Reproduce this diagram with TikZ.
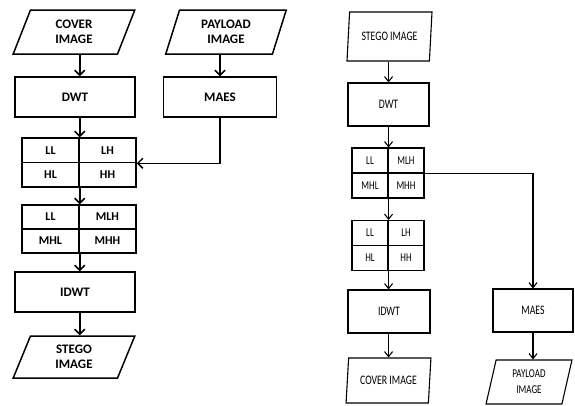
\documentclass[tikz,border=0pt]{standalone}
\usepackage{fontspec}
\setmainfont{Carlito}
\newfontfamily\narrowfont[FakeStretch=0.75]{Carlito}
\usetikzlibrary{shapes.geometric,arrows.meta}

\begin{document}
\begin{tikzpicture}[x=1pt,y=-1pt,
  lbox/.style={draw,line width=1.5pt,inner sep=0pt,align=center,font=\bfseries\fontsize{13}{15.5}\selectfont},
  lio/.style={lbox,trapezium,trapezium left angle=73,trapezium right angle=107,trapezium stretches=true},
  lcell/.style={draw,line width=1.5pt,inner sep=0pt,minimum width=57,minimum height=24.5,font=\bfseries\fontsize{12}{14}\selectfont},
  rbox/.style={draw,line width=1.1pt,inner sep=0pt,align=center,font=\narrowfont\fontsize{13}{17}\selectfont},
  rio/.style={rbox,trapezium,trapezium left angle=78,trapezium right angle=102,trapezium stretches=true},
  rcell/.style={draw,line width=1.1pt,inner sep=0pt,minimum width=36,minimum height=25,font=\narrowfont\fontsize{12}{14}\selectfont},
  larr/.style={line width=1.5pt,-{Straight Barb[length=5pt,width=10pt,line width=1.5pt]}},
  rarr/.style={line width=1.1pt,-{Straight Barb[length=5pt,width=8pt,line width=1.1pt]}}]

  \useasboundingbox (0,0) rectangle (575,405);

  % embedding
  \node[lio,minimum width=122,minimum height=44] (cov) at (74,32) {COVER\\IMAGE};
  \node[lio,minimum width=121,minimum height=44] (pay) at (226,32) {PAYLOAD\\IMAGE};
  \node[lbox,minimum width=120,minimum height=40] (dwt) at (75,97) {DWT};
  \node[lbox,minimum width=113,minimum height=40] (maes) at (220,97) {MAES};

  \node[lcell] (ll) at (50.5,150.25) {LL};
  \node[lcell] (lh) at (107.5,150.25) {LH};
  \node[lcell] (hl) at (50.5,174.75) {HL};
  \node[lcell] (hh) at (107.5,174.75) {HH};

  \node[lcell,minimum height=24] (mll) at (50.5,217) {LL};
  \node[lcell,minimum height=24] (mlh) at (107.5,217) {MLH};
  \node[lcell,minimum height=24] (mhl) at (50.5,241) {MHL};
  \node[lcell,minimum height=24] (mhh) at (107.5,241) {MHH};

  \node[lbox,minimum width=120,minimum height=40] (idwt) at (75,292) {IDWT};
  \node[lio,minimum width=122,minimum height=42] (stg) at (74,357) {STEGO\\IMAGE};

  \draw[larr] (cov.south -| ll.east) -- (dwt.north -| ll.east);
  \draw[larr] (dwt.south -| ll.east) -- (ll.north east);
  \draw[larr] (pay.south -| maes.north) -- (maes.north);
  \draw[larr] (maes.south) |- (lh.south east);
  \draw[larr] (hl.south east) -- (mll.north east);
  \draw[larr] (mhl.south east) -- (idwt.north -| mhl.east);
  \draw[larr] (idwt.south -| mhl.east) -- (stg.north -| mhl.east);

  % extraction
  \node[rio,minimum width=85,minimum height=49] (stg2) at (389.5,36.5) {STEGO IMAGE};
  \node[rbox,minimum width=81,minimum height=43] (dwt2) at (388.5,104.5) {DWT};

  \node[rcell] (rll) at (370,160.5) {LL};
  \node[rcell] (rmlh) at (406,160.5) {MLH};
  \node[rcell] (rmhl) at (370,185.5) {MHL};
  \node[rcell] (rmhh) at (406,185.5) {MHH};

  \node[rcell] (sll) at (370,233) {LL};
  \node[rcell] (slh) at (406,233) {LH};
  \node[rcell] (shl) at (370,258) {HL};
  \node[rcell] (shh) at (406,258) {HH};

  \node[rbox,minimum width=82,minimum height=43] (idwt2) at (389,311.5) {IDWT};
  \node[rio,minimum width=85,minimum height=45] (cov2) at (388.5,380.5) {COVER IMAGE};
  \node[rbox,minimum width=80,minimum height=43] (maes2) at (533,310.5) {MAES};
  \node[rio,minimum width=86,minimum height=44,font=\narrowfont\fontsize{12}{16}\selectfont] (pay2) at (529,382) {PAYLOAD\\IMAGE};

  \draw[rarr] (stg2.south -| rll.east) -- (dwt2.north -| rll.east);
  \draw[rarr] (dwt2.south -| rll.east) -- (rll.north east);
  \draw[rarr] (rmlh.south east) -| (maes2.north);
  \draw[rarr] (rmhl.south east) -- (sll.north east);
  \draw[rarr] (shl.south east) -- (idwt2.north -| shl.east);
  \draw[rarr] (idwt2.south -| shl.east) -- (cov2.north -| shl.east);
  \draw[rarr] (maes2.south) -- (pay2.north -| maes2.south);
\end{tikzpicture}
\end{document}
